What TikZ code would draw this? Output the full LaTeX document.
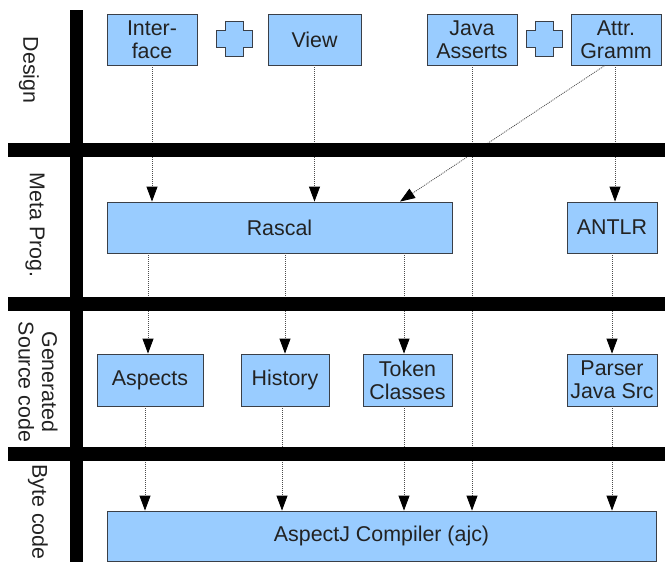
\documentclass[tikz,border=0pt]{standalone}
\usepackage{fontspec}
\setmainfont{Liberation Sans}
\usetikzlibrary{arrows.meta,calc}
\definecolor{boxblue}{HTML}{99CCFF}
\definecolor{boxline}{HTML}{3A3F47}
\definecolor{txt}{HTML}{222222}
\begin{document}
\begin{tikzpicture}[x=1pt,y=-1pt,
  box/.style={draw=boxline, fill=boxblue, line width=0.8pt, inner sep=0pt, align=center, text=txt, font=\fontsize{21.4}{23}\selectfont},
  lbl/.style={rotate=-90, align=center, text=txt, inner sep=0pt, font=\fontsize{21.4}{23.5}\selectfont},
  flow/.style={draw=black!70, line width=0.8pt, dash pattern=on 1pt off 1pt, -{Triangle[width=11pt,length=15pt,color=black]}},
  crossshape/.pic={\draw[draw=boxline, fill=boxblue, line width=0.8pt] (-9,-17.5) -- (9,-17.5) -- (9,-8.5) -- (18,-8.5) -- (18,8.5) -- (9,8.5) -- (9,17.5) -- (-9,17.5) -- (-9,8.5) -- (-18,8.5) -- (-18,-8.5) -- (-9,-8.5) -- cycle;}]
\useasboundingbox (0,0) rectangle (665,562);

% design row
\node[box, minimum width=90pt, minimum height=51pt] (iface) at (152,39.5) {Inter-\\face};
\pic (plusA) at (234,38.5) {crossshape};
\node[box, minimum width=93pt, minimum height=51pt] (view) at (314.5,39.5) {View};
\node[box, minimum width=90pt, minimum height=51pt] (jass) at (472,39.5) {Java\\Asserts};
\pic (plusB) at (544,38.5) {crossshape};
\node[box, minimum width=90pt, minimum height=51pt] (attr) at (616,39.5) {Attr.\\Gramm};

% meta row
\node[box, minimum width=345pt, minimum height=51pt] (rascal) at (279.5,227.5) {Rascal};
\node[box, minimum width=90pt, minimum height=51pt] (antlr) at (612,227.5) {ANTLR};

% generated row
\node[box, minimum width=106pt, minimum height=52pt] (aspects) at (150,380) {Aspects};
\node[box, minimum width=88pt, minimum height=52pt] (history) at (285,380) {History};
\node[box, minimum width=89pt, minimum height=52pt] (token) at (407.5,380) {Token\\Classes};
\node[box, minimum width=90pt, minimum height=52pt] (parser) at (612,380) {Parser\\Java Src};

% byte row
\node[box, minimum width=549pt, minimum height=50pt] (ajc) at (381.5,536) {AspectJ Compiler (ajc)};

% row labels
\node[lbl] (ldesign) at (29,70) {Design};
\node[lbl] (lmeta) at (35,225) {Meta Prog.};
\node[lbl] (lgen) at (38,382) {Generated\\Source code};
\node[lbl] (lbyte) at (38,512) {Byte code};

% connectors
\draw[flow] (iface.south) -- (iface.south |- rascal.north);
\draw[flow] (view.south) -- (view.south |- rascal.north);
\draw[flow] ([xshift=-11pt]attr.south) -- ([xshift=120.5pt]rascal.north);
\draw[flow] ([xshift=-1pt]attr.south) -- ([xshift=-1pt]attr.south |- antlr.north);
\draw[flow] (jass.south) -- (jass.south |- ajc.north);

\draw[flow] ([xshift=-2pt]aspects.north |- rascal.south) -- ([xshift=-2pt]aspects.north);
\draw[flow] (history.north |- rascal.south) -- (history.north);
\draw[flow] ([xshift=-3.5pt]token.north |- rascal.south) -- ([xshift=-3.5pt]token.north);
\draw[flow] (antlr.south) -- (parser.north);

\draw[flow] ([xshift=-5pt]aspects.south) -- ([xshift=-5pt]aspects.south |- ajc.north);
\draw[flow] ([xshift=-3pt]history.south) -- ([xshift=-3pt]history.south |- ajc.north);
\draw[flow] ([xshift=-3.5pt]token.south) -- ([xshift=-3.5pt]token.south |- ajc.north);
\draw[flow] (parser.south) -- (parser.south |- ajc.north);

% thick swimlane bars
\fill[black] (70,10) rectangle (83,562);
\fill[black] (8,143) rectangle (665,157);
\fill[black] (8,297) rectangle (665,311);
\fill[black] (8,447) rectangle (665,461);
\end{tikzpicture}
\end{document}
